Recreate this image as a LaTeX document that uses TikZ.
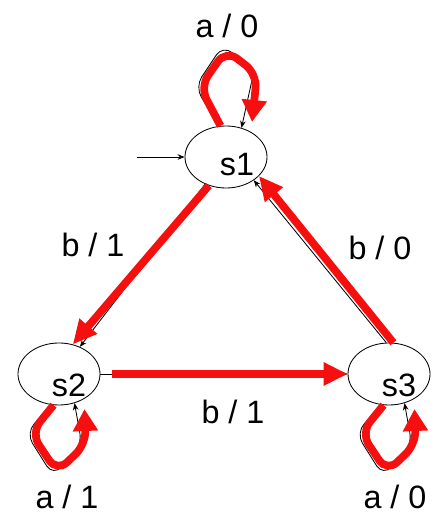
\documentclass[tikz,border=0pt]{standalone}
\usepackage{fontspec}
\setmainfont{Liberation Sans}
\usetikzlibrary{arrows.meta,shapes.geometric}
\definecolor{hotcol}{RGB}{245,15,15}
\tikzset{
  state/.style={ellipse,draw,line width=0.6pt,minimum width=2.05cm,minimum height=1.55cm,inner sep=0pt},
  txt/.style={font=\fontsize{23}{27}\selectfont,inner sep=0pt},
  blkarr/.style={-{Stealth[length=5pt,width=4pt]},line width=0.6pt},
  blkloop/.style={blkarr,rounded corners=0.3cm},
  hotarr/.style={-{Triangle[length=0.6cm,width=0.55cm]},hotcol,line width=5.5pt},
  hotloop/.style={-{Triangle[length=0.55cm,width=0.6cm]},hotcol,line width=5.5pt,rounded corners=0.35cm,shorten >=0.25cm}
}
\begin{document}
\begin{tikzpicture}[x=0.025cm,y=0.025cm]
  \useasboundingbox (0,0) rectangle (432,517);
  \node[state] (s1) at (226,360) {};
  \node[state] (s2) at (59,143) {};
  \node[state] (s3) at (389,143) {};
  \node[txt] (t1) at (237,352) {s1};
  \node[txt] (t2) at (69,132) {s2};
  \node[txt] (t3) at (399,132) {s3};
  \coordinate (init) at (137,360);
  \draw[blkarr] (init) -- (s1);
  % thin transitions
  \draw[blkarr] (s1) -- (s2);
  \draw[blkarr] (s2) -- (s3);
  \draw[blkarr] (s3.95) -- (s1.-40);
  \draw[blkloop] (s1.102) -- (195,430) -- (223,472) -- (254,446) -- (s1.62);
  \draw[blkloop] (s2.-104) -- (26,84) -- (53,41) -- (82,72) -- (s2.-62);
  \draw[blkloop] (s3.-104) -- (356,84) -- (383,41) -- (412,72) -- (s3.-62);
  % thick red overlay
  \draw[hotarr] (s1.-121) -- (s2.65);
  \draw[hotarr,shorten <=0.3cm] (s2) -- (s3);
  \draw[hotarr] (s3.82) -- (s1.-30);
  \draw[hotloop] (s1.100) -- (200,430) -- (226,467) -- (257,443) -- (s1.45);
  \draw[hotloop] (s2.-100) -- (31,84) -- (57,45) -- (86,73) -- (s2.-45);
  \draw[hotloop] (s3.-100) -- (361,84) -- (387,45) -- (416,73) -- (s3.-45);
  % labels
  \node[txt] (l1) at (227,491) {a / 0};
  \node[txt] (l2) at (93,272) {b / 1};
  \node[txt] (l3) at (380,269) {b / 0};
  \node[txt] (l4) at (233,105) {b / 1};
  \node[txt] (l5) at (67,20) {a / 1};
  \node[txt] (l6) at (395,20) {a / 0};
\end{tikzpicture}
\end{document}
